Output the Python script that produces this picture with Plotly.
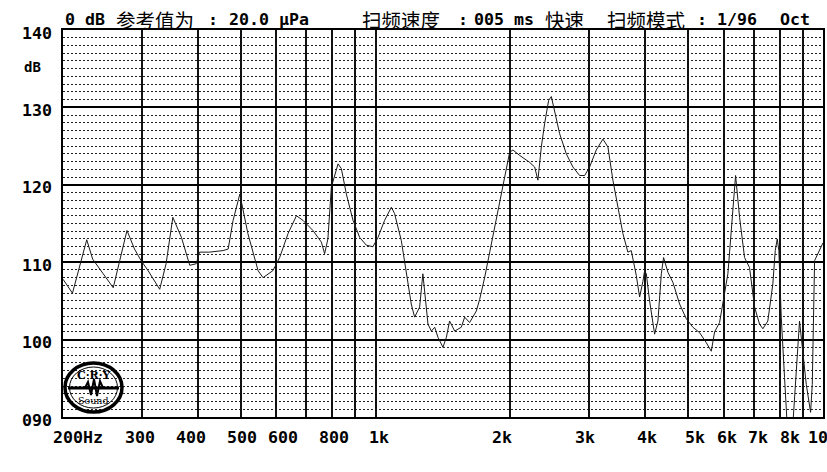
import math
import plotly.graph_objects as go

# ---------------- data ----------------
freq_hz = [200, 210, 226, 233, 246, 259, 278, 289, 299, 310,
           329, 340, 352, 368, 384, 397, 404, 425, 456, 468,
           480, 497, 518, 546, 560, 589, 610, 637, 665, 688,
           724, 756, 769, 782, 796, 824, 838, 860, 890, 921,
           953, 986, 1012, 1047, 1084, 1102, 1141, 1171, 1201, 1222,
           1254, 1275, 1287, 1309, 1332, 1355, 1378, 1414, 1439, 1463,
           1502, 1554, 1581, 1622, 1679, 1708, 1752, 1845, 1925, 1993,
           2027, 2098, 2209, 2267, 2305, 2346, 2386, 2436, 2470, 2512,
           2578, 2668, 2760, 2857, 2932, 3008, 3113, 3221, 3305, 3391,
           3479, 3570, 3663, 3727, 3824, 3891, 3957, 3992, 4027, 4096,
           4203, 4275, 4351, 4402, 4501, 4618, 4780, 4948, 5118, 5298,
           5484, 5627, 5723, 5872, 6129, 6288, 6376, 6509, 6678, 6852,
           7031, 7214, 7338, 7528, 7725, 7821, 7902, 7967, 8066, 8204,
           8344, 8450, 8562, 8862, 9016, 9176, 9381, 9463, 9576, 9740,
           9912, 10000]

level_db = [107.8, 106.0, 112.9, 110.4, 108.5, 106.7, 114.1, 111.7, 110.2, 108.9,
            106.5, 109.8, 115.8, 113.2, 109.6, 109.8, 111.3, 111.3, 111.5, 111.7,
            115.4, 118.8, 113.7, 108.9, 108.0, 108.9, 110.6, 113.7, 116.0, 115.4,
            114.1, 112.6, 111.1, 113.0, 119.7, 122.7, 122.1, 118.8, 115.4, 113.2,
            112.2, 112.0, 113.2, 115.4, 117.1, 116.3, 112.8, 108.5, 104.6, 102.9,
            104.2, 108.5, 106.3, 102.0, 101.1, 101.6, 100.3, 99.0, 100.3, 102.4,
            101.1, 101.6, 102.9, 102.2, 103.7, 105.2, 108.0, 114.5, 119.7, 124.2,
            124.5, 123.8, 122.9, 122.3, 120.6, 124.9, 127.9, 130.9, 131.4, 129.6,
            126.6, 124.0, 122.3, 121.2, 121.2, 122.3, 124.5, 125.9, 124.9, 120.6,
            117.1, 113.7, 111.3, 111.5, 108.3, 105.5, 107.5, 108.9, 108.5, 105.0,
            100.7, 102.4, 108.5, 110.6, 108.7, 107.4, 104.6, 102.7, 101.6, 100.9,
            99.6, 98.5, 101.0, 102.2, 108.5, 116.7, 121.2, 115.8, 110.6, 109.3,
            104.2, 102.0, 101.4, 102.4, 107.2, 111.5, 113.0, 111.5, 102.9, 95.1,
            87.5, 86.0, 89.0, 102.4, 98.5, 94.2, 90.6, 94.2, 110.2, 111.1,
            112.2, 112.5]

# grid lines (frequency)
x_grid_vals = [200, 300, 400, 500, 600, 700, 800, 900, 1000,
               2000, 3000, 4000, 5000, 6000, 7000, 8000, 9000, 10000]
# labelled frequencies
x_label_vals = [200, 300, 400, 500, 600, 800, 1000, 2000, 3000, 4000, 5000, 6000, 7000, 8000, 10000]
x_label_text = ["200Hz", "300", "400", "500", "600", "800", "1k", "2k", "3k", "4k", "5k", "6k", "7k", "8k", "10k"]
x_label_shift = [15, -2, -7, 1, 7, 2, 3, -8, -4, 2, 7, 3, 4, 10, 0]   # px nudges (styling)
y_tick_vals = [90, 100, 110, 120, 130, 140]
y_tick_text = ["090", "100", "110", "120", "130", "140"]

# ---------------- figure ----------------
W, H = 827, 472
L, R, T, B = 63, 4, 30, 55
PW, PH = W - L - R, H - T - B

MONO = dict(family="DejaVu Sans Mono", size=16.6, color="black", weight="bold")
CJK = dict(family="Noto Sans CJK SC", size=19.5, color="black")


def px(xp):
    return (xp - L) / PW


def py(yp):
    return (H - B - yp) / PH


fig = go.Figure()
fig.add_trace(go.Scatter(x=freq_hz, y=level_db, mode="lines",
                         line=dict(color="#1a1a1a", width=1), hoverinfo="skip",
                         showlegend=False))

fig.update_layout(
    width=W, height=H, autosize=False,
    margin=dict(l=L, r=R, t=T, b=B, autoexpand=False),
    paper_bgcolor="white", plot_bgcolor="white",
    showlegend=False,
)
fig.update_xaxes(type="log", range=[math.log10(200), math.log10(10000)],
                 tickmode="array", tickvals=x_grid_vals, showticklabels=False,
                 showgrid=True, gridcolor="#111111", gridwidth=1.5,
                 showline=True, linecolor="black", linewidth=1.5, mirror=True,
                 ticks="", zeroline=False, automargin=False)
fig.update_yaxes(range=[90, 140], tickmode="array", tickvals=y_tick_vals, showticklabels=False,
                 showgrid=True, gridcolor="black", gridwidth=2,
                 minor=dict(tick0=90, dtick=1, showgrid=True, gridcolor="#222222",
                            gridwidth=1, griddash="2px,2px", ticks=""),
                 showline=True, linecolor="black", linewidth=1.5, mirror=True,
                 ticks="", zeroline=False, automargin=False)

# axis labels as annotations placed on the axes' own scales
for f, t, s in zip(x_label_vals, x_label_text, x_label_shift):
    fig.add_annotation(text=t, xref="x", yref="paper", x=math.log10(f), y=0,
                       xanchor="center", yanchor="middle", xshift=s, yshift=-20.5,
                       showarrow=False, font=MONO)
for v, t in zip(y_tick_vals, y_tick_text):
    fig.add_annotation(text=t, xref="paper", yref="y", x=0, y=v,
                       xanchor="right", yanchor="middle", xshift=-9, yshift=-3,
                       showarrow=False, font=MONO)

# ---------------- header texts ----------------
hdr_y = 1 + 11 / PH
header = [
    ("0 dB", 63, "left", MONO),
    ("参考值为", 114, "left", CJK),
    (":", 213, "center", MONO),
    ("20.0 μPa", 227, "left", MONO),
    ("扫频速度", 360, "left", CJK),
    (":", 463, "center", MONO),
    ("005 ms", 472, "left", MONO),
    ("快速", 543, "left", CJK),
    ("扫频模式", 605, "left", CJK),
    (":", 702, "center", MONO),
    ("1/96", 715, "left", MONO),
    ("Oct", 778, "left", MONO),
]
for txt, xp, anc, fnt in header:
    fig.add_annotation(text=txt, xref="paper", yref="paper", x=px(xp), y=hdr_y,
                       xanchor=anc, yanchor="middle", showarrow=False, font=fnt)

fig.add_annotation(text="dB", xref="paper", yref="paper", x=px(22), y=py(67),
                   xanchor="left", yanchor="middle", showarrow=False,
                   font=dict(family="DejaVu Sans Mono", size=14, color="black", weight="bold"))

# ---------------- logo ----------------
fig.add_shape(type="circle", xref="paper", yref="paper",
              x0=px(65), x1=px(122), y0=py(412), y1=py(363),
              line=dict(color="black", width=3.5))
fig.add_shape(type="circle", xref="paper", yref="paper",
              x0=px(69.5), x1=px(117.5), y0=py(408), y1=py(367),
              line=dict(color="black", width=1))
fig.add_shape(type="line", xref="paper", yref="paper",
              x0=px(68), x1=px(119), y0=py(388), y1=py(388),
              line=dict(color="black", width=3))
wave = [(85, 388), (88, 382), (91, 395), (94, 379), (97, 396), (100, 381), (103, 388)]
path = "M " + " L ".join(f"{px(a):.5f},{py(b):.5f}" for a, b in wave)
fig.add_shape(type="path", xref="paper", yref="paper", path=path,
              line=dict(color="black", width=2))
fig.add_annotation(text="C·R·Y", xref="paper", yref="paper", x=px(93.5), y=py(375),
                   xanchor="center", yanchor="middle", showarrow=False,
                   font=dict(family="DejaVu Serif", size=11, color="black", weight="bold"))
fig.add_annotation(text="Sound", xref="paper", yref="paper", x=px(93.5), y=py(400),
                   xanchor="center", yanchor="middle", showarrow=False,
                   font=dict(family="DejaVu Serif", size=9.5, color="black"))

fig.write_html("out.html", config={"displayModeBar": False},
               post_script="document.body.style.margin='0';")
